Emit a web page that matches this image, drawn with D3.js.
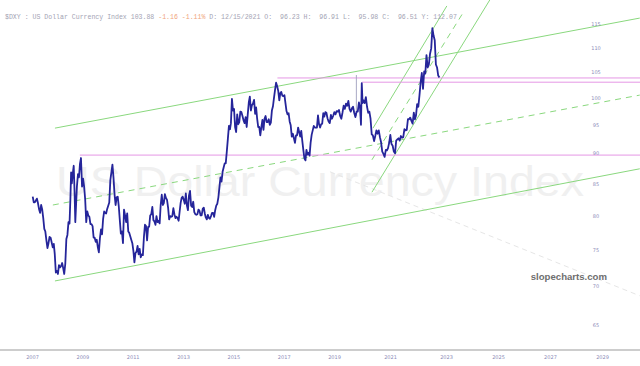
<!DOCTYPE html>
<html>
<head>
<meta charset="utf-8">
<script src="https://cdn.jsdelivr.net/npm/d3@7"></script>
<style>
  body { margin: 0; background: #fff; }
  svg { display: block; }
  text { white-space: pre; }
</style>
</head>
<body>
<div id="chart"></div>
<script>
// ---- data ----
const headerMain = "$DXY : US Dollar Currency Index 103.88 ";
const headerChange = "-1.16 -1.11%";
const headerRest = " D: 12/15/2021 O:  96.23 H:  96.91 L:  95.98 C:  96.51 Y: 112.07";
const watermark = "US Dollar Currency Index";

// DXY, two (sometimes three) readings per month, starting April 2007
const seriesStart = "2007-04";
const dxyByMonth = [
  [82.9, 82.0], [82.0, 82.3], [82.6, 81.9], [81.0, 80.4], [81.6, 80.9], [79.6, 78.0], [77.6, 76.3], [75.2, 75.9], [76.8, 76.7],
  // 2008
  [76.0, 75.3], [75.8, 74.3], [71.8, 72.0], [71.6, 72.8], [72.5, 72.7], [73.1, 72.4], [71.6, 73.0], [76.5, 77.1], [79.0, 78.8],
  [82.5, 86.8, 85.0], [86.5, 87.9], [83.5, 79.0, 81.4],
  // 2009
  [84.5, 86.5], [86.0, 88.2], [89.2, 84.5], [85.8, 84.5], [82.5, 79.0], [80.6, 80.0], [79.8, 78.7], [78.7, 78.4], [76.7, 76.7],
  [76.1, 76.4], [75.3, 74.6], [76.6, 77.9],
  // 2010
  [77.2, 79.5], [80.6, 80.4], [80.3, 81.0], [81.5, 82.0], [85.5, 86.8], [88.1, 86.0], [83.3, 81.6], [82.8, 82.9], [81.4, 79.3],
  [77.3, 77.6], [75.9, 80.9], [80.0, 79.0],
  // 2011
  [80.3, 77.6], [77.4, 76.9], [76.4, 75.9], [74.8, 73.2], [74.5, 74.7], [75.5, 74.3], [75.1, 73.9], [74.3, 74.2], [76.8, 78.6],
  [78.4, 76.3], [78.3, 78.3], [80.0, 80.2],
  // 2012
  [81.3, 79.3], [79.1, 78.6], [79.9, 79.0], [79.2, 78.8], [81.6, 83.2], [81.6, 81.9], [83.3, 82.7], [82.4, 81.2], [79.4, 79.9],
  [79.8, 79.9], [81.1, 80.2], [79.6, 79.8],
  // 2013
  [79.6, 79.2], [80.6, 81.9], [82.7, 82.9], [82.4, 81.8], [83.4, 81.5], [80.8, 83.1], [83.8, 81.5], [81.3, 82.1], [80.5, 80.2],
  [80.1, 80.2], [80.9, 80.7], [80.0, 80.0],
  // 2014
  [81.0, 81.2], [80.3, 79.7], [79.4, 80.1], [79.6, 79.5], [79.9, 80.4], [80.4, 79.8], [80.8, 81.5], [81.8, 82.8], [84.4, 86.0],
  [85.3, 86.9], [87.6, 88.3], [88.3, 90.3],
  // 2015
  [92.5, 94.8], [94.2, 95.3], [99.8, 97.6], [97.9, 94.6], [93.7, 96.9], [95.1, 95.5], [97.4, 97.3], [96.6, 95.8], [95.3, 96.4],
  [94.6, 96.9], [99.1, 100.2], [97.6, 98.6],
  // 2016
  [98.9, 99.6], [97.0, 98.2], [96.1, 94.6], [94.6, 93.1], [94.6, 95.9], [94.1, 96.1], [96.6, 95.5], [95.5, 96.0], [95.0, 95.4],
  [97.6, 98.4], [100.0, 101.5], [102.9, 102.2],
  // 2017
  [101.3, 99.5], [100.9, 101.1], [100.4, 100.3], [100.5, 99.0], [97.5, 96.9], [97.1, 95.6], [94.9, 92.9], [93.4, 92.6], [91.8, 93.1],
  [93.1, 94.5], [93.7, 92.9], [93.9, 92.1],
  // 2018
  [90.5, 89.1], [88.8, 90.6], [89.8, 90.1], [89.6, 91.8], [93.2, 94.0], [94.8, 94.5], [94.5, 94.5], [96.7, 95.1], [94.5, 95.1],
  [95.2, 97.1], [96.5, 97.3], [97.2, 96.2],
  // 2019
  [95.6, 95.3], [96.8, 96.1], [96.6, 97.3], [96.9, 97.5], [97.4, 97.7], [96.6, 96.1], [97.2, 98.5], [97.9, 98.9], [98.5, 99.4],
  [97.9, 97.4], [98.0, 98.3], [97.2, 96.4],
  // 2020
  [97.4, 97.4], [99.1, 98.1], [95.0, 102.8, 99.0], [99.5, 99.0], [100.1, 98.3], [97.2, 97.4], [96.1, 93.3], [93.1, 92.1], [93.0, 94.0],
  [93.4, 94.0], [92.8, 91.9], [90.3, 89.9],
  // 2021
  [89.4, 90.6], [90.5, 90.9], [91.8, 93.2], [91.6, 91.3], [90.3, 90.0], [92.2, 92.4], [92.6, 92.2], [93.0, 92.7], [92.8, 94.2],
  [94.0, 94.1], [96.0, 96.0], [96.3, 95.7],
  // 2022
  [95.2, 97.2], [96.0, 96.7], [98.8, 98.3], [100.5, 103.0], [104.8, 101.7], [105.1, 104.7], [108.4, 105.9], [106.5, 108.7],
  [109.8, 114.1], [112.5, 111.5], [106.5, 105.9], [104.3, 103.9]
];

// a stray high print in early 2020: date, low, high
const spike = ["2020-01-06", 96.6, 104.4];

// trend lines as [date, value] pairs
const solidTrends = [
  [["2008-02-25", 94.4], ["2030-09-08", 116.3]],
  [["2008-02-25", 70.66], ["2030-09-08", 87.4]],
  [["2020-08-10", 94.4], ["2023-04-07", 119.0]],
  [["2020-07-27", 83.6], ["2024-12-02", 120.4]]
];
const dashedTrends = [
  [["2008-01-26", 81.6], ["2030-09-08", 100.5]],
  [["2020-07-27", 88.9], ["2023-11-18", 117.4]]
];
const faintTrend = [["2019-01-27", 86.9], ["2030-09-08", 68.7]];

// horizontal levels: start date, value
const levels = [["2009-02-20", 89.7], ["2016-12-28", 103.82], ["2020-03-19", 102.99]];

const yTicks = [115, 110, 105, 100, 95, 90, 85, 80, 75, 70, 65];
const xTickYears = [2007, 2009, 2011, 2013, 2015, 2017, 2019, 2021, 2023, 2025, 2027, 2029];

// ---- layout ----
const width = 640, height = 366;
const parse = d3.timeParse("%Y-%m-%d");
const yr = y => new Date(y, 0, 1);

const x = d3.scaleTime()
  .domain([yr(2007), yr(2019), yr(2023), yr(2029)])
  .range([26, 328, 440, 596]);
const y = d3.scaleLog().domain([65, 115]).range([325, 24]);

const svg = d3.select("#chart").append("svg")
  .attr("width", width).attr("height", height);

svg.append("rect").attr("width", width).attr("height", height).attr("fill", "#fff");

// watermark
svg.append("text")
  .attr("x", 56).attr("y", 196)
  .attr("textLength", 528).attr("lengthAdjust", "spacingAndGlyphs")
  .attr("font-family", "Liberation Sans, Arial, sans-serif")
  .attr("font-size", 43)
  .attr("fill", "#f0f0f0")
  .text(watermark);

// build series points
const [sy, sm] = seriesStart.split("-").map(Number);
const points = [];
dxyByMonth.forEach((vals, i) => {
  const m0 = new Date(sy, sm - 1 + i, 1);
  const m1 = new Date(sy, sm + i, 1);
  vals.forEach((v, j) => {
    const t = m0.getTime() + (m1 - m0) * (j + 0.5) / vals.length;
    points.push({ date: new Date(t), value: v });
  });
});

const seg = (a, b) => ({ x1: x(parse(a[0])), y1: y(a[1]), x2: x(parse(b[0])), y2: y(b[1]) });

// faint grey dashed
const f = seg(faintTrend[0], faintTrend[1]);
svg.append("line").attr("x1", f.x1).attr("y1", f.y1).attr("x2", f.x2).attr("y2", f.y2)
  .attr("stroke", "#e6e6e6").attr("stroke-width", 1).attr("stroke-dasharray", "5,4");

// green trends
const trends = svg.append("g").attr("stroke", "#8ad87e").attr("stroke-width", 1).attr("fill", "none");
solidTrends.forEach(t => {
  const s = seg(t[0], t[1]);
  trends.append("line").attr("x1", s.x1).attr("y1", s.y1).attr("x2", s.x2).attr("y2", s.y2);
});
dashedTrends.forEach(t => {
  const s = seg(t[0], t[1]);
  trends.append("line").attr("x1", s.x1).attr("y1", s.y1).attr("x2", s.x2).attr("y2", s.y2)
    .attr("stroke-dasharray", "6,5");
});

// pink levels
svg.append("g").selectAll("line").data(levels).join("line")
  .attr("x1", d => x(parse(d[0]))).attr("x2", width)
  .attr("y1", d => y(d[1])).attr("y2", d => y(d[1]))
  .attr("stroke", "#e597e5").attr("stroke-width", 1);

// stray print
svg.append("line")
  .attr("x1", x(parse(spike[0]))).attr("x2", x(parse(spike[0])))
  .attr("y1", y(spike[1])).attr("y2", y(spike[2]))
  .attr("stroke", "#a9a9c4").attr("stroke-width", 1);

// price line
svg.append("path")
  .datum(points)
  .attr("fill", "none")
  .attr("stroke", "#25259a")
  .attr("stroke-width", 1.8)
  .attr("stroke-linejoin", "round")
  .attr("d", d3.line().x(d => x(d.date)).y(d => y(d.value)));

// header
const header = svg.append("text")
  .attr("x", 5).attr("y", 19)
  .attr("font-family", "Liberation Mono, DejaVu Sans Mono, monospace")
  .attr("font-size", 6.55)
  .attr("fill", "#a4a4b4");
header.append("tspan").text(headerMain);
header.append("tspan").attr("fill", "#f0a47c").text(headerChange);
header.append("tspan").text(headerRest);

// y axis (right)
const yAxis = svg.append("g")
  .attr("transform", "translate(596,0)")
  .call(d3.axisRight(y).tickValues(yTicks).tickSize(0).tickFormat(d3.format("d")));
yAxis.select(".domain").remove();
yAxis.selectAll("text")
  .attr("x", 0).attr("text-anchor", "middle")
  .attr("font-size", 5).attr("fill", "#8c8cb8")
  .attr("font-family", "DejaVu Sans, sans-serif");

// x axis
svg.append("line")
  .attr("x1", 0).attr("x2", width).attr("y1", 350).attr("y2", 350)
  .attr("stroke", "#9b9b9b").attr("stroke-width", 1.2);
const xAxis = svg.append("g")
  .attr("transform", "translate(0,352)")
  .call(d3.axisBottom(x).tickValues(xTickYears.map(yr)).tickSize(0).tickFormat(d3.timeFormat("%Y")));
xAxis.select(".domain").remove();
xAxis.selectAll("text")
  .attr("dx", 6).attr("dy", 4)
  .attr("font-size", 5).attr("fill", "#8c8cb8")
  .attr("font-family", "DejaVu Sans, sans-serif");

// logo
svg.append("text")
  .attr("x", 607).attr("y", 280)
  .attr("text-anchor", "end")
  .attr("font-family", "Liberation Sans, Arial, sans-serif")
  .attr("font-weight", "bold")
  .attr("font-size", 9.6)
  .attr("fill", "#6e6e6e")
  .text("slopecharts.com");
</script>
</body>
</html>
